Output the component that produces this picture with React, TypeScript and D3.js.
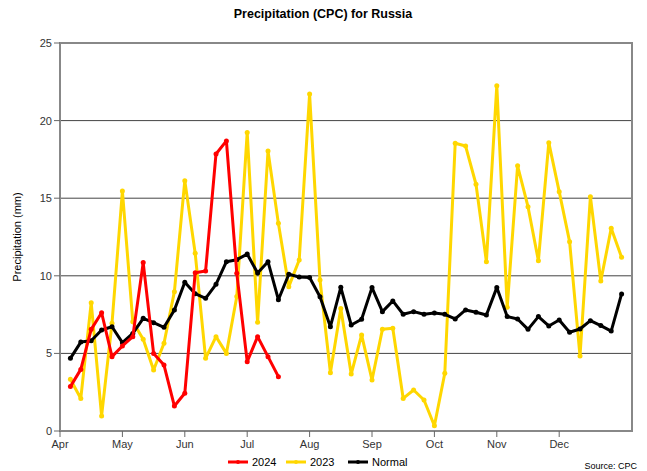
import React from "react";
import * as d3 from "d3";

const monthLabels = ["Apr", "May", "Jun", "Jul", "Aug", "Sep", "Oct", "Nov", "Dec"];
const yTicks = [0, 5, 10, 15, 20, 25];

const series2024 = [
  2.86, 3.97, 6.55, 7.62, 4.79, 5.48, 6.08, 10.85, 5.0, 4.25, 1.61, 2.43, 10.2, 10.31, 17.85, 18.69,
  10.16, 4.47, 6.08, 4.79, 3.5,
];

const series2023 = [
  3.33, 2.1, 8.27, 0.97, 6.94, 15.46, 7.04, 5.91, 3.93, 5.65, 8.98, 16.13, 11.45, 4.68, 6.08, 5.0,
  8.66, 19.24, 7.0, 18.04, 13.38, 9.3, 11.02, 21.71, 9.73, 3.76, 7.9, 3.67, 6.19, 3.29, 6.55, 6.62,
  2.1, 2.64, 2.0, 0.34, 3.72, 18.54, 18.36, 15.9, 10.91, 22.25, 7.97, 17.09, 14.45, 10.97, 18.58,
  15.42, 12.2, 4.83, 15.1, 9.66, 13.06, 11.19,
];

const seriesNormal = [
  4.68, 5.73, 5.82, 6.51, 6.72, 5.69, 6.29, 7.26, 6.98, 6.68, 7.8, 9.58, 8.85, 8.55, 9.45, 10.91,
  11.04, 11.4, 10.18, 10.91, 8.46, 10.1, 9.92, 9.89, 8.65, 6.72, 9.26, 6.83, 7.2, 9.24, 7.69, 8.38,
  7.52, 7.69, 7.52, 7.6, 7.52, 7.22, 7.8, 7.65, 7.47, 9.24, 7.37, 7.22, 6.55, 7.37, 6.77, 7.15,
  6.36, 6.57, 7.11, 6.79, 6.44, 8.83,
];

const seriesList = [
  { name: "2024", values: series2024, color: "#ff0000" },
  { name: "2023", values: series2023, color: "#ffd700" },
  { name: "Normal", values: seriesNormal, color: "#000000" },
];

const W = 647;
const H = 471;
const left = 60;
const right = 632;
const top = 43;
const bottom = 431;
const FONT = "'Liberation Sans', Arial, sans-serif";

export default function App() {
  const x = d3.scaleLinear().domain([-1, 54]).range([left, right]);
  const y = d3.scaleLinear().domain([0, 25]).range([bottom, top]);
  const line = d3
    .line<number>()
    .x((_, i) => x(i))
    .y((d) => y(d));

  const monthPos = monthLabels.map((m, k) => ({ m, i: -1 + 6 * k }));

  const legendX = [228, 286, 348];

  return (
    <svg
      width={W}
      height={H}
      style={{ position: "absolute", left: 0, top: 0, background: "#fff" }}
      fontFamily={FONT}
    >
      <rect x={0} y={0} width={W} height={H} fill="#fff" />
      <text x={323} y={18} textAnchor="middle" fontSize={12.5} fontWeight="bold" fill="#000">
        Precipitation (CPC) for Russia
      </text>

      {yTicks
        .filter((t) => t > 0 && t < 25)
        .map((t) => (
          <line key={t} x1={left} x2={right} y1={y(t)} y2={y(t)} stroke="#444" strokeWidth={1} />
        ))}

      <rect x={left} y={top} width={right - left} height={bottom - top} fill="none" stroke="#888" strokeWidth={2} />

      {yTicks.map((t) => (
        <g key={t}>
          <line x1={left - 6} x2={left} y1={y(t)} y2={y(t)} stroke="#666" strokeWidth={1} />
          <text x={left - 8} y={y(t) + 4} textAnchor="end" fontSize={11} fill="#333">
            {t}
          </text>
        </g>
      ))}

      {monthPos.map(({ m, i }) => (
        <g key={m}>
          <line x1={x(i)} x2={x(i)} y1={bottom} y2={bottom + 6} stroke="#666" strokeWidth={1} />
          <text x={x(i)} y={bottom + 17} textAnchor="middle" fontSize={11} fill="#333">
            {m}
          </text>
        </g>
      ))}

      <text
        transform={`translate(21,${(top + bottom) / 2}) rotate(-90)`}
        textAnchor="middle"
        fontSize={11}
        fill="#000"
      >
        Precipitation (mm)
      </text>

      {[seriesList[1], seriesList[2], seriesList[0]].map((s) => (
        <g key={s.name}>
          <path d={line(s.values) || ""} fill="none" stroke={s.color} strokeWidth={3} strokeLinejoin="round" />
          {s.values.map((v, i) => (
            <circle key={i} cx={x(i)} cy={y(v)} r={2.5} fill={s.color} />
          ))}
        </g>
      ))}

      {seriesList.map((s, k) => (
        <g key={s.name}>
          <line x1={legendX[k]} x2={legendX[k] + 20} y1={462} y2={462} stroke={s.color} strokeWidth={3} />
          <circle cx={legendX[k] + 10} cy={462} r={2} fill={s.color} />
          <text x={legendX[k] + 24} y={466} fontSize={11} fill="#000">
            {s.name}
          </text>
        </g>
      ))}

      <text x={637} y={469} textAnchor="end" fontSize={9} fill="#000">
        Source: CPC
      </text>
    </svg>
  );
}
